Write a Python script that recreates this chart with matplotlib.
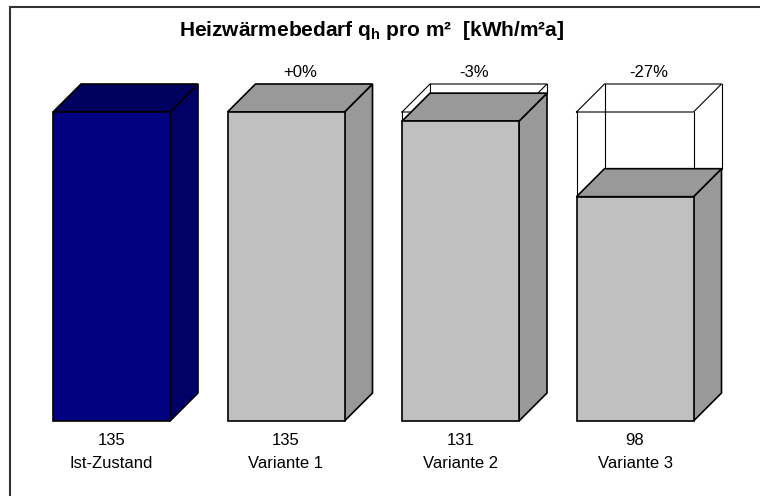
import matplotlib
matplotlib.use("Agg")
import matplotlib.pyplot as plt
from matplotlib.patches import Polygon, Rectangle

categories = ["Ist-Zustand", "Variante 1", "Variante 2", "Variante 3"]
values = [135, 135, 131, 98]
reference = 135
pct_labels = ["", "+0%", "-3%", "-27%"]
title = "Heizwärmebedarf q$_\\mathregular{h}$ pro m²  [kWh/m²a]"

W, H = 760, 496
fig = plt.figure(figsize=(W / 100, H / 100), dpi=100)
plt.rcParams['font.family'] = ['Liberation Sans', 'DejaVu Sans']

# axes placement (pixels)
y0_px, y135_px = 421, 112
xc0, xc3 = 111.5, 635.0
step = (xc3 - xc0) / 3
left_px = xc0 - step / 2
ax = fig.add_axes([left_px / W, (H - y0_px) / H, 4 * step / W, (y0_px - y135_px) / H])
ax.set_xlim(-0.5, 3.5)
ax.set_ylim(0, reference)
ax.axis('off')

ppv = (y0_px - y135_px) / reference  # pixels per value unit
half_w = (117 / step) / 2
dx = 28 / step
dy = 28 / ppv

front_c = ["#000080", "#C0C0C0", "#C0C0C0", "#C0C0C0"]
top_c = ["#00005E", "#999999", "#999999", "#999999"]
side_c = ["#000066", "#999999", "#999999", "#999999"]

def box(x, h, fc, tc, sc, lw=1.2, z=2):
    xl, xr = x - half_w, x + half_w
    front = [(xl, 0), (xr, 0), (xr, h), (xl, h)]
    top = [(xl, h), (xr, h), (xr + dx, h + dy), (xl + dx, h + dy)]
    side = [(xr, 0), (xr + dx, dy), (xr + dx, h + dy), (xr, h)]
    for pts, c in ((side, sc), (top, tc), (front, fc)):
        ax.add_patch(Polygon(pts, closed=True, facecolor=c,
                             edgecolor='black', lw=lw, clip_on=False, zorder=z,
                             joinstyle='miter'))

for i, v in enumerate(values):
    if v < reference:
        # ghost outline of reference
        xl, xr = i - half_w, i + half_w
        h = reference
        lines = [
            [(xl, h), (xr, h), (xr + dx, h + dy), (xl + dx, h + dy), (xl, h)],
            [(xr, h), (xr, v)],
            [(xl, h), (xl, v)],
            [(xr + dx, h + dy), (xr + dx, v + dy)],
            [(xl + dx, h + dy), (xl + dx, v + dy)],
        ]
        for ln in lines:
            xs, ys = zip(*ln)
            ax.plot(xs, ys, color='black', lw=0.8, clip_on=False, zorder=1)
    box(i, v, front_c[i], top_c[i], side_c[i], z=2)
    ax.text(i, -8.5, f"{v}", ha='center', va='center', fontsize=12, clip_on=False)
    ax.text(i, -18.4, categories[i], ha='center', va='center', fontsize=12, clip_on=False)
    if pct_labels[i]:
        ax.text(i + dx / 2, reference + dy + 5.2, pct_labels[i], ha='center', va='center',
                fontsize=12, clip_on=False)

fig.text(372 / W, 1 - 31 / H, title, ha='center', va='center', fontsize=15,
         fontweight='bold')

# frame
fig.patches.append(Rectangle((10 / W, -0.05), 1.1, 1 - 7 / H + 0.05,
                             transform=fig.transFigure, fill=False,
                             edgecolor='#333333', lw=1.5, figure=fig))

fig.savefig("out.png", dpi=100)
